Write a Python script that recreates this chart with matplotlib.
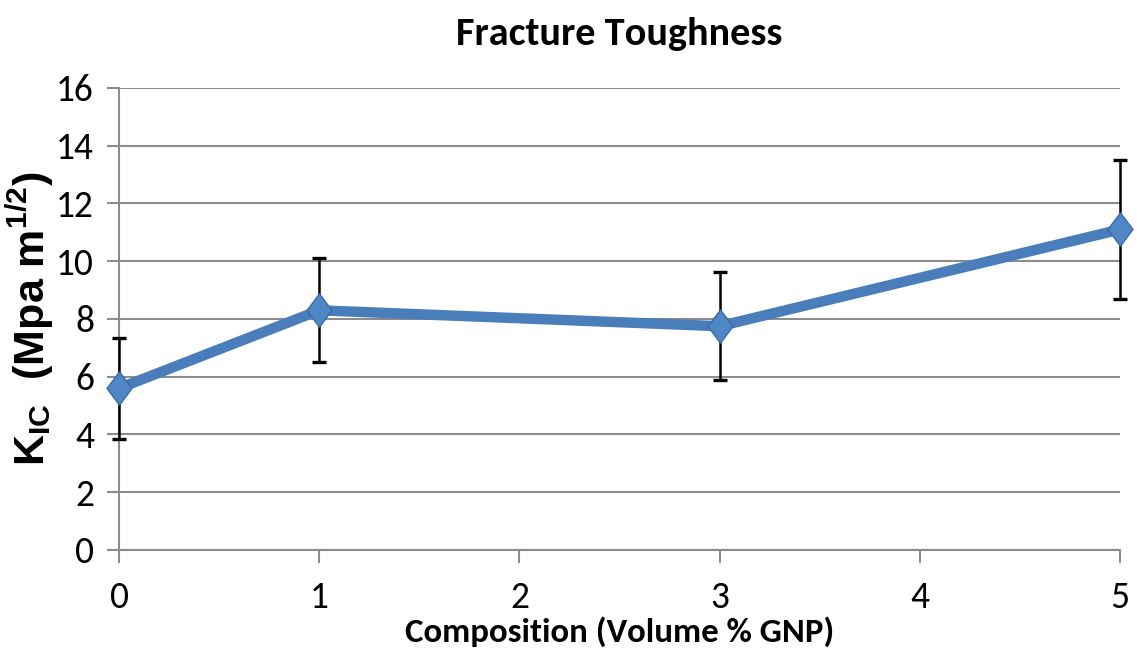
import matplotlib
matplotlib.use("Agg")
import matplotlib.pyplot as plt
from matplotlib.path import Path

# Data: fracture toughness vs. GNP content
composition = [0, 1, 3, 5]
kic = [5.6, 8.3, 7.75, 11.1]
kic_err = [1.75, 1.8, 1.87, 2.4]
x_ticks = [0, 1, 2, 3, 4, 5]
y_ticks = [0, 2, 4, 6, 8, 10, 12, 14, 16]

body_font = ["Carlito", "DejaVu Sans"]

plt.rcParams["mathtext.fontset"] = "custom"
plt.rcParams["mathtext.rm"] = "Liberation Sans:bold"
plt.rcParams["mathtext.bf"] = "Liberation Sans:bold"
plt.rcParams["mathtext.it"] = "Liberation Sans:bold"

fig = plt.figure(figsize=(11.37, 6.64), dpi=100)
ax = fig.add_axes([0.1047, 0.1717, 0.8804, 0.6958])

# tall diamond marker
diamond = Path([(0, 1), (0.75, 0), (0, -1), (-0.75, 0), (0, 1)],
               [Path.MOVETO, Path.LINETO, Path.LINETO, Path.LINETO, Path.CLOSEPOLY])

eb = ax.errorbar(composition, kic, yerr=kic_err, fmt="none", ecolor="black",
                 elinewidth=1.8, capsize=5, capthick=2.4, zorder=3)
for artist in eb.lines[1] + eb.lines[2]:
    artist.set_clip_on(False)
ax.plot(composition, kic, color="#4a7ebb", lw=7.5, solid_capstyle="butt",
        zorder=4, clip_on=False)
ax.plot(composition, kic, linestyle="none", marker=diamond, markersize=24,
        markerfacecolor="#4f86c6", markeredgecolor="#3a6aa6",
        markeredgewidth=1.0, zorder=5, clip_on=False)

ax.set_xlim(0, 5)
ax.set_ylim(0, 16)
ax.set_xticks(x_ticks)
ax.set_yticks(y_ticks)
ax.yaxis.grid(True, color="#8c8c8c", lw=1.5)
ax.set_axisbelow(True)
for s in ["top", "right"]:
    ax.spines[s].set_visible(False)
for s in ["left", "bottom"]:
    ax.spines[s].set_color("#8c8c8c")
    ax.spines[s].set_linewidth(1.5)
ax.tick_params(axis="both", direction="out", length=9, width=1.5,
               color="#8c8c8c", labelsize=27)
ax.tick_params(axis="y", pad=9)
ax.tick_params(axis="x", pad=13)
for lab in ax.get_xticklabels() + ax.get_yticklabels():
    lab.set_fontfamily(body_font)

ax.set_title("Fracture Toughness", fontsize=29, fontweight="bold",
             family=body_font, pad=31)
ax.set_xlabel("Composition (Volume % GNP)", fontsize=25, fontweight="bold",
              family=body_font, labelpad=2)
ax.set_ylabel(r"$\mathbf{K_{IC}}$  (Mpa m$^{\mathbf{1/2}}$)", fontsize=31,
              fontweight="bold", family="Liberation Sans")
ax.yaxis.set_label_coords(-0.063, 0.5)

fig.savefig("out.png", dpi=100)
